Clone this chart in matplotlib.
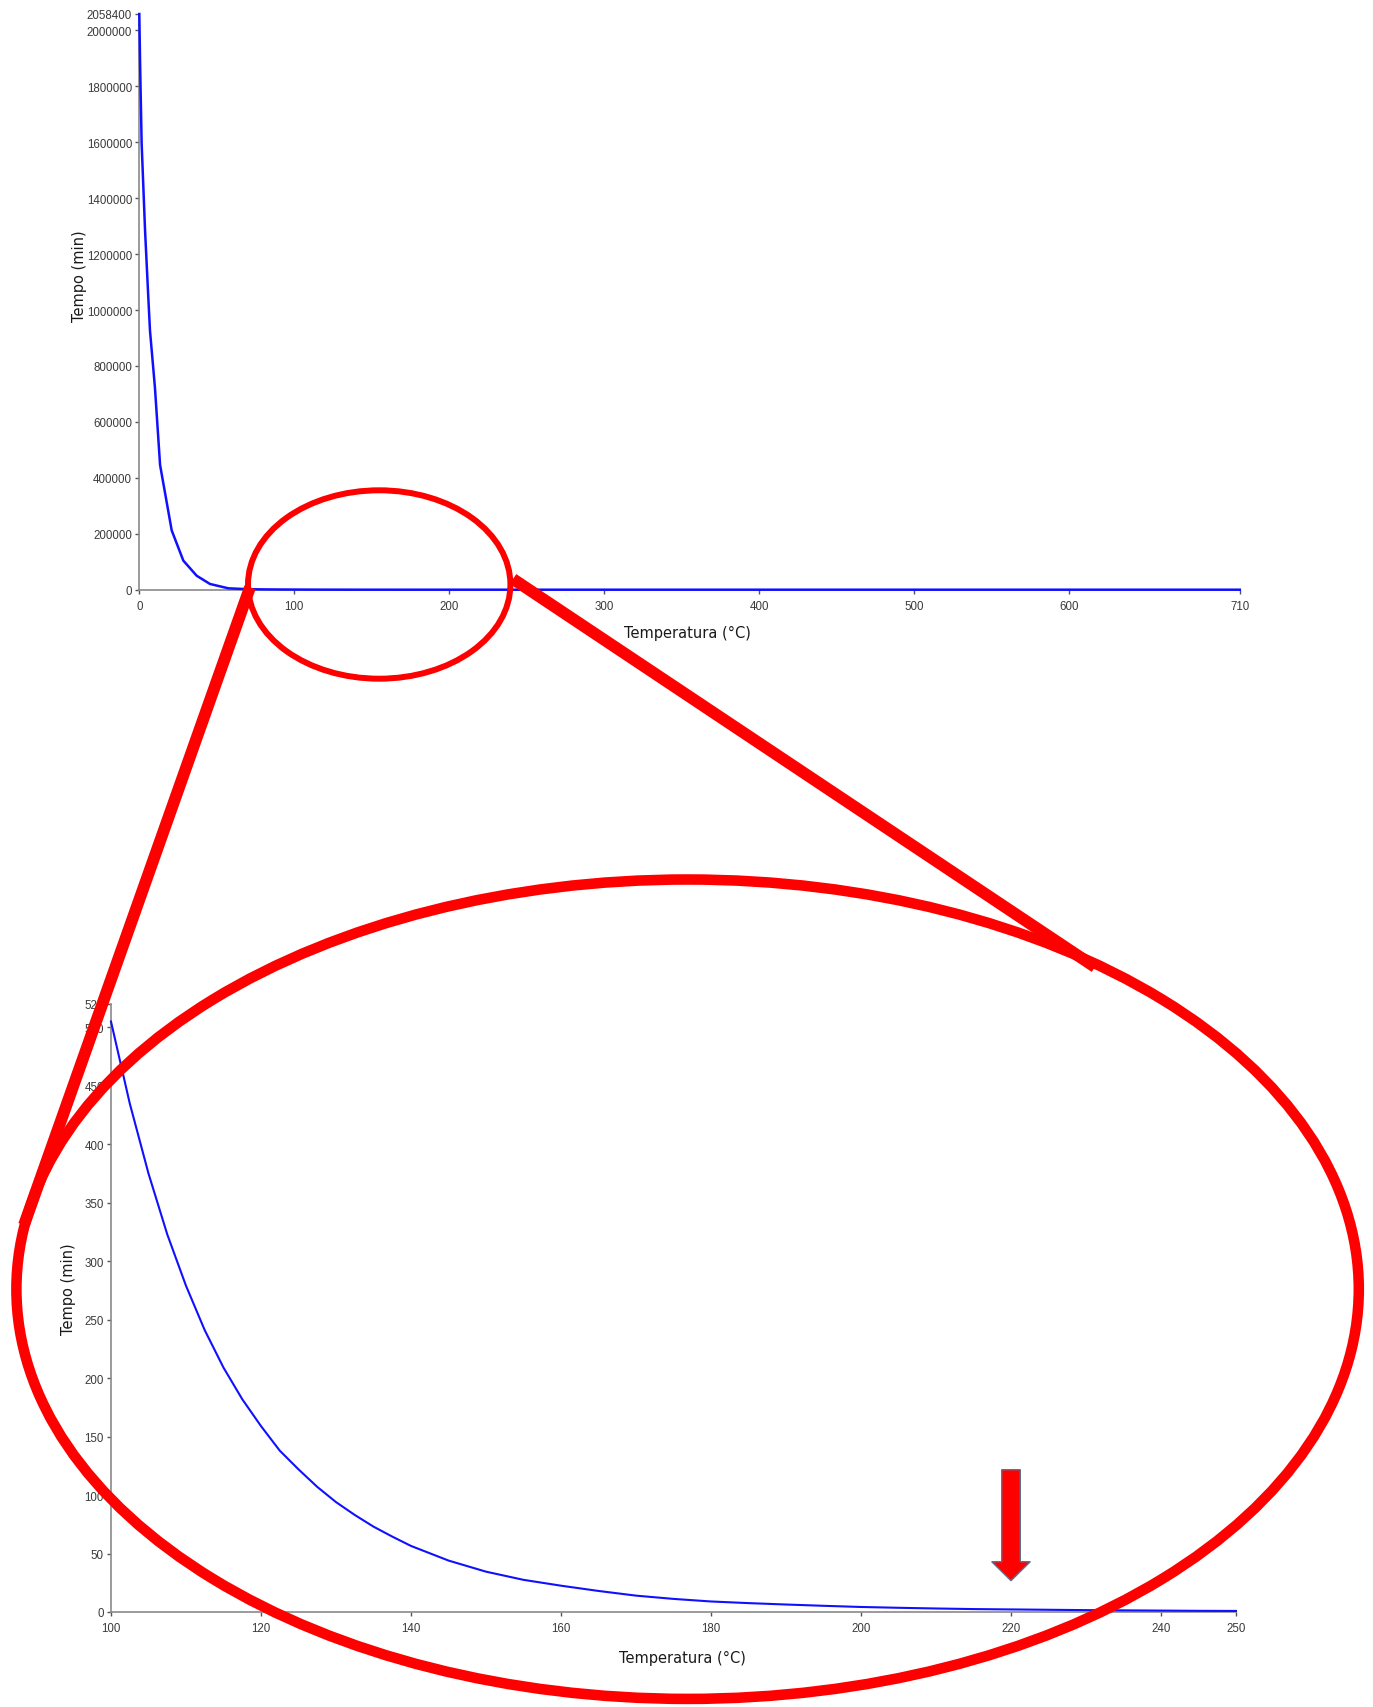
import matplotlib
matplotlib.use('Agg')
import matplotlib.pyplot as plt
from matplotlib.patches import Ellipse, Polygon

# ---------------- data ----------------
temp_full = [0, 0.5, 1.5, 3.7, 5.8, 6.9, 10.1, 13.4, 20.9, 28.4, 37, 45.6, 57.4,
             70, 80, 90, 100, 120, 140, 160, 180, 200, 250, 300, 400, 500, 600, 710]
tempo_full = [2058400, 1885000, 1597000, 1286000, 1046000, 926000, 722000, 446000,
              212000, 104000, 50000, 20500, 5000, 1800, 1100, 700, 505, 159, 56.5,
              22.5, 9, 4.3, 0.9, 0.4, 0.15, 0.07, 0.04, 0.02]

temp_zoom = [100, 102.5, 105, 107.5, 110, 112.5, 115, 117.5, 120, 122.5, 125, 127.5,
             130, 132.5, 135, 137.5, 140, 145, 150, 155, 160, 165,
             170, 175, 180, 185, 190, 195, 200, 205, 210, 215, 220, 225, 230, 235,
             240, 245, 250]
tempo_zoom = [505, 435, 375, 323, 279, 241, 209, 182, 159, 138, 122, 107,
              94, 83, 73, 64.5, 56.5, 44, 34.5, 27.5, 22.5, 18,
              14, 11.2, 9, 7.6, 6.4, 5.3, 4.3, 3.6, 3.0, 2.5, 2.2, 1.9, 1.6, 1.4,
              1.2, 1.0, 0.9]

top_xticks = [0, 100, 200, 300, 400, 500, 600, 710]
top_yticks = [0, 200000, 400000, 600000, 800000, 1000000, 1200000, 1400000,
              1600000, 1800000, 2000000, 2058400]
bot_xticks = [100, 120, 140, 160, 180, 200, 220, 240, 250]
bot_yticks = [0, 50, 100, 150, 200, 250, 300, 350, 400, 450, 500, 520]

xlabel = "Temperatura (°C)"
ylabel = "Tempo (min)"
arrow_temp = 220

# ---------------- figure ----------------
W, H = 1373, 1708
fig = plt.figure(figsize=(W / 100, H / 100), dpi=100)
fig.patch.set_facecolor('white')

tick_font = dict(family=['Liberation Sans Narrow', 'Liberation Sans', 'DejaVu Sans'],
                 size=8.3)


def px_rect(x0, y0, x1, y1):
    """reference pixels (top-left origin) -> figure fraction rect"""
    return [x0 / W, 1 - y1 / H, (x1 - x0) / W, (y1 - y0) / H]


def style(ax, xticks, yticks, xlim, ylim):
    ax.set_xlim(*xlim)
    ax.set_ylim(*ylim)
    for s in ['top', 'right']:
        ax.spines[s].set_visible(False)
    for s in ['left', 'bottom']:
        ax.spines[s].set_color('#8a8a8a')
        ax.spines[s].set_linewidth(1.2)
    ax.set_xticks(xticks)
    ax.set_yticks(yticks)
    ax.set_xticklabels([str(t) for t in xticks], fontdict=tick_font, color='#3a3a3a')
    ax.set_yticklabels([str(t) for t in yticks], fontdict=tick_font, color='#3a3a3a')
    ax.tick_params(axis='both', direction='out', length=3.2, width=1.0, colors='#555555',
                   labelcolor='#3a3a3a')
    ax.tick_params(axis='x', pad=4)
    ax.tick_params(axis='y', pad=2)
    ax.patch.set_alpha(0)


# top chart
ax1 = fig.add_axes(px_rect(139.3, 15, 1239.8, 590.7))
ax1.plot(temp_full, tempo_full, color='#1010ff', lw=1.8, zorder=3, clip_on=False)
style(ax1, top_xticks, top_yticks, (0, 710), (0, 2058400))

# bottom chart
ax2 = fig.add_axes(px_rect(111, 1005, 1236, 1613))
ax2.plot(temp_zoom, tempo_zoom, color='#1010ff', lw=1.5, zorder=3, clip_on=False)
style(ax2, bot_xticks, bot_yticks, (100, 250), (0, 520))

lab_font = dict(family='DejaVu Sans', size=10.5, color='#1a1a1a')
fig.text(687.6 / W, 1 - 633 / H, xlabel, ha='center', va='center', **lab_font)
fig.text(79.5 / W, 1 - 275.7 / H, ylabel, ha='center', va='center', rotation=90, **lab_font)
fig.text(682 / W, 1 - 1658.5 / H, xlabel, ha='center', va='center', **lab_font)
fig.text(68.7 / W, 1 - 1289 / H, ylabel, ha='center', va='center', rotation=90, **lab_font)

# ---------------- red overlay (reference pixel coordinates) ----------------
ov = fig.add_axes([0, 0, 1, 1], zorder=10)
ov.set_xlim(0, W)
ov.set_ylim(H, 0)
ov.axis('off')
ov.patch.set_alpha(0)

ov.add_patch(Ellipse((379.2, 585.5), 262.4, 188.4, fill=False, ec='#ff0000', lw=4.3))
ov.add_patch(Ellipse((687.6, 1290.2), 1342.4, 819.4, fill=False, ec='#ff0000', lw=7.6))
ov.plot([250, 24], [588.3, 1226], color='#ff0000', lw=8.5, solid_capstyle='butt')
ov.plot([513, 1095], [580, 968], color='#ff0000', lw=8.5, solid_capstyle='butt')

# arrow pointing at 220 °C on the zoomed chart
cx = ax2.transData.transform((arrow_temp, 0))[0] * W / fig.bbox.width
verts = [(cx - 9.3, 1470.7), (cx + 9.3, 1470.7), (cx + 9.3, 1562.7), (cx + 19.3, 1562.7),
         (cx, 1581.7), (cx - 19.3, 1562.7), (cx - 9.3, 1562.7)]
ov.add_patch(Polygon(verts, closed=True, fc='#ff0000', ec='#5b7391', lw=1.0))

fig.savefig('out.png', dpi=100, facecolor='white')
